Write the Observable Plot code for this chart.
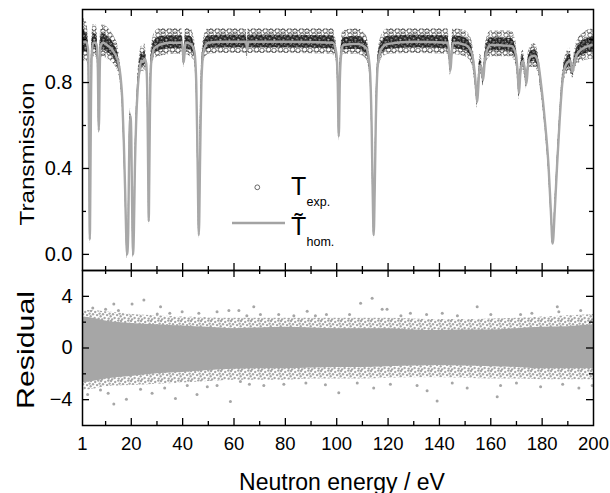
<!DOCTYPE html>
<html><head><meta charset="utf-8">
<script src="https://cdn.jsdelivr.net/npm/d3@7"></script>
<script src="https://cdn.jsdelivr.net/npm/@observablehq/plot@0.6"></script>
<style>
body{margin:0;background:#fff;font-family:"Liberation Sans",Arial,sans-serif}
#wrap{position:relative;width:610px;height:493px;overflow:hidden;background:#fff}
#top,#bot{position:absolute;left:0}
#top{top:0}
#bot{top:270px}
#legend{position:absolute;left:0;top:0;pointer-events:none}
svg{overflow:visible}
</style></head><body>
<svg id="patterns" width="0" height="0" style="position:absolute"><defs></defs></svg>
<div id="wrap">
  <div id="top"></div>
  <div id="bot"></div>
  <svg id="legend" width="610" height="493" font-family="Liberation Sans, Arial, sans-serif">
    <circle cx="257.3" cy="187.3" r="2.4" fill="none" stroke="#444" stroke-width="0.8"/>
    <line x1="232" x2="285" y1="223" y2="223" stroke="#a3a3a3" stroke-width="2.6"/>
    <text x="291" y="195" font-size="25">T</text>
    <text x="306.5" y="206" font-size="12.5">exp.</text>
    <text x="291" y="235" font-size="25">T&#x0303;</text>
    <text x="306.5" y="246" font-size="12.5">hom.</text>
  </svg>
</div>
<script>
// ---- Transmission: fitted curve (T hom.) and envelope of the experimental points (T exp.)
const energy = [
  1.0, 1.8, 2.6, 3.2, 3.45, 3.65, 3.85, 4.05, 4.3, 4.6, 5.2,
  6.0, 6.6, 7.0, 7.2, 7.35, 7.5, 7.7, 8.1,
  9.0, 10.5, 12.0, 13.5, 14.8, 15.8, 16.5, 17.1, 17.6,
  18.0, 18.4, 18.8, 19.1, 19.4, 19.7, 20.0, 20.3, 20.7, 21.0, 21.4, 21.9,
  22.5, 23.2, 24.0, 24.5, 25.2, 25.8, 26.3, 26.6, 26.8, 27.0, 27.3, 27.8, 29.0,
  31, 35, 39.8, 40.2, 40.45, 40.7, 41.1, 43, 44.5, 45.3, 45.8, 46.3, 46.8, 47.3, 48.2, 50,
  55, 64.7, 65.1, 65.5, 80, 98.5, 99.8, 100.4, 100.8, 101.2, 101.8, 102.5,
  108, 111.5, 112.8, 113.6, 114.0, 114.4, 114.8, 115.2, 116.0, 117.5, 120,
  130, 143.3, 143.9, 144.3, 144.7, 145.3, 150, 152.5, 153.7, 154.4, 154.7, 155.1, 155.7, 156.4, 157.0, 157.6, 158.5, 160,
  168, 169.8, 170.5, 171.0, 171.5, 172.5, 173.3, 173.9, 174.5, 175.5, 177,
  178.3, 179.6, 181.0, 182.5, 183.4, 184.1, 184.9, 185.8, 186.8, 187.8, 189.2, 190.8, 191.5, 191.9, 192.4, 193.5, 196, 200
];
const tHom = [
  0.99, 0.99, 0.985, 0.95, 0.70, 0.30, 0.07, 0.30, 0.70, 0.93, 0.985,
  0.985, 0.97, 0.85, 0.65, 0.577, 0.65, 0.85, 0.97,
  0.985, 0.975, 0.96, 0.935, 0.90, 0.83, 0.72, 0.52, 0.30,
  0.10, 0.0, 0.10, 0.40, 0.60, 0.645, 0.55, 0.25, 0.0, 0.10, 0.40, 0.62,
  0.77, 0.86, 0.90, 0.895, 0.91, 0.89, 0.70, 0.35, 0.155, 0.35, 0.70, 0.90, 0.96,
  0.975, 0.985, 0.985, 0.93, 0.895, 0.93, 0.985, 0.98, 0.95, 0.80, 0.45, 0.09, 0.45, 0.80, 0.95, 0.985,
  0.99, 0.99, 0.95, 0.99, 0.99, 0.985, 0.94, 0.80, 0.55, 0.80, 0.94, 0.975,
  0.98, 0.96, 0.88, 0.60, 0.30, 0.09, 0.30, 0.60, 0.88, 0.96, 0.98,
  0.99, 0.985, 0.92, 0.856, 0.92, 0.985, 0.975, 0.94, 0.85, 0.75, 0.71, 0.77, 0.88, 0.87, 0.81, 0.89, 0.95, 0.975,
  0.97, 0.93, 0.84, 0.75, 0.84, 0.90, 0.86, 0.795, 0.88, 0.92, 0.925,
  0.90, 0.79, 0.63, 0.41, 0.20, 0.05, 0.20, 0.41, 0.62, 0.79, 0.88, 0.90, 0.87, 0.85, 0.88, 0.93, 0.96, 0.975
];
const tExpLow = [
  0.90, 0.90, 0.90, 0.88, 0.66, 0.26, 0.05, 0.26, 0.66, 0.88, 0.92,
  0.92, 0.91, 0.80, 0.61, 0.55, 0.61, 0.80, 0.91,
  0.92, 0.91, 0.90, 0.88, 0.85, 0.79, 0.68, 0.48, 0.27,
  0.08, -0.02, 0.08, 0.37, 0.57, 0.61, 0.52, 0.22, -0.02, 0.08, 0.37, 0.59,
  0.73, 0.81, 0.85, 0.84, 0.86, 0.85, 0.67, 0.32, 0.14, 0.32, 0.67, 0.86, 0.91,
  0.92, 0.93, 0.93, 0.89, 0.87, 0.89, 0.93, 0.92, 0.90, 0.76, 0.42, 0.07, 0.42, 0.76, 0.90, 0.93,
  0.935, 0.935, 0.91, 0.935, 0.935, 0.93, 0.90, 0.76, 0.52, 0.76, 0.90, 0.93,
  0.93, 0.91, 0.84, 0.57, 0.27, 0.07, 0.27, 0.57, 0.84, 0.91, 0.93,
  0.935, 0.93, 0.88, 0.83, 0.88, 0.93, 0.92, 0.89, 0.81, 0.72, 0.68, 0.74, 0.84, 0.83, 0.78, 0.85, 0.90, 0.92,
  0.92, 0.88, 0.80, 0.72, 0.80, 0.86, 0.82, 0.77, 0.84, 0.87, 0.87,
  0.85, 0.75, 0.60, 0.38, 0.18, 0.04, 0.18, 0.38, 0.59, 0.75, 0.83, 0.85, 0.83, 0.82, 0.84, 0.88, 0.90, 0.91
];
const tExpHigh = [
  1.11, 1.09, 1.08, 1.02, 0.75, 0.34, 0.10, 0.34, 0.75, 1.00, 1.07,
  1.07, 1.06, 0.90, 0.70, 0.61, 0.70, 0.90, 1.05,
  1.07, 1.06, 1.04, 1.01, 0.97, 0.88, 0.76, 0.56, 0.33,
  0.13, 0.02, 0.13, 0.43, 0.63, 0.68, 0.58, 0.28, 0.02, 0.13, 0.43, 0.66,
  0.82, 0.92, 0.97, 0.96, 0.98, 0.94, 0.74, 0.38, 0.18, 0.38, 0.74, 0.96, 1.03,
  1.05, 1.05, 1.05, 0.98, 0.93, 0.98, 1.05, 1.05, 1.01, 0.85, 0.49, 0.12, 0.60, 0.86, 1.01, 1.05,
  1.05, 1.05, 0.99, 1.05, 1.05, 1.05, 0.99, 0.84, 0.58, 0.84, 0.99, 1.04,
  1.05, 1.02, 0.93, 0.63, 0.33, 0.11, 0.33, 0.63, 0.93, 1.02, 1.05,
  1.05, 1.05, 0.97, 0.89, 0.97, 1.05, 1.04, 1.00, 0.90, 0.79, 0.74, 0.81, 0.93, 0.92, 0.84, 0.94, 1.01, 1.04,
  1.04, 0.99, 0.88, 0.78, 0.88, 0.95, 0.90, 0.82, 0.93, 0.97, 0.98,
  0.95, 0.83, 0.66, 0.44, 0.23, 0.07, 0.23, 0.44, 0.65, 0.83, 0.93, 0.96, 0.91, 0.88, 0.93, 0.99, 1.03, 1.05
];

// ---- Residuals: dense core band, speckled halo band, and isolated points
const resEnergy    = [1, 5, 10, 20, 30, 40, 50, 60, 70, 80, 90, 100, 110, 120, 130, 140, 150, 160, 170, 180, 190, 200];
const resCoreLow   = [-2.7, -2.6, -2.4, -2.2, -2.0, -1.9, -1.75, -1.65, -1.6, -1.6, -1.55, -1.5, -1.5, -1.45, -1.4, -1.35, -1.4, -1.45, -1.5, -1.6, -1.6, -1.6];
const resCoreHigh  = [2.4, 2.3, 2.1, 1.9, 1.8, 1.7, 1.6, 1.5, 1.55, 1.6, 1.55, 1.5, 1.5, 1.5, 1.4, 1.35, 1.4, 1.4, 1.5, 1.6, 1.65, 1.8];
const resHaloLow   = [-3.3, -3.2, -3.0, -2.9, -2.8, -2.7, -2.6, -2.5, -2.5, -2.5, -2.4, -2.4, -2.4, -2.35, -2.3, -2.3, -2.35, -2.4, -2.4, -2.45, -2.45, -2.45];
const resHaloHigh  = [2.9, 2.9, 2.8, 2.6, 2.5, 2.4, 2.35, 2.3, 2.3, 2.3, 2.3, 2.3, 2.3, 2.3, 2.25, 2.2, 2.2, 2.25, 2.3, 2.4, 2.5, 2.6];
const resOutEnergy = [24.9, 20.3, 13.2, 10.0, 30.1, 31.4, 39.8, 46.3, 53.4, 58, 61.9, 67.7, 70.3, 77.4, 83.3, 109.3, 113.8, 117.7, 119.6, 88.5, 91.7, 128.7, 141.1, 154.7, 171.6, 185.9, 186.5,
  5, 15, 35, 65, 96, 105, 125, 135, 147, 160, 176, 195,
  13.2, 18.1, 8, 37.2, 45.6, 58.6, 49.6, 62.5, 71.6, 79.4, 23.6, 28.1, 41.8, 53.4, 100.8, 114.4, 139.1, 135.2, 162.5, 163.8, 179.4, 194.3, 199.5, 120.9, 131.3, 150.8, 95.6,
  3, 11, 33, 66, 88, 108, 145, 170, 188];
const resOutValue  = [3.72, 3.4, 3.4, 3.0, 2.64, 3.2, 2.8, 2.7, 2.8, 2.9, 2.9, 3.2, 2.6, 2.6, 2.5, 3.46, 3.85, 3.0, 3.0, 2.85, 2.5, 2.7, 2.7, 3.2, 2.6, 3.2, 2.8,
  3.1, 2.9, 2.7, 2.5, 2.6, 2.6, 2.5, 2.6, 2.5, 2.6, 2.7, 2.9,
  -4.33, -3.97, -3.25, -3.9, -3.6, -4.15, -3.0, -2.6, -2.9, -2.8, -3.2, -3.5, -2.9, -2.9, -3.46, -3.1, -4.1, -3.3, -3.77, -2.9, -3.0, -3.1, -2.9, -2.8, -2.9, -3.1, -2.85,
  -3.6, -3.5, -3.1, -2.8, -2.7, -2.7, -2.7, -2.7, -2.8];

// ---- Axes
const xTickLabels = [1, 20, 40, 60, 80, 100, 120, 140, 160, 180, 200];
const xMajor = [20, 40, 60, 80, 100, 120, 140, 160, 180];
const xMinor = [10, 30, 50, 70, 90, 110, 130, 150, 170, 190];
const tTicks = [0, 0.4, 0.8];
const tMinor = [0.2, 0.6, 1.0];
const rTicks = [-4, 0, 4];
const rMinor = [-2, 2];

// ---- texture patterns (styling only): open circles for T exp., dots for residuals
function makePattern(id, w, h, pts, draw) {
  const p = d3.select("#patterns defs").append("pattern")
    .attr("id", id).attr("patternUnits", "userSpaceOnUse").attr("width", w).attr("height", h);
  for (const [cx, cy] of pts)
    for (const ox of [-w, 0, w]) for (const oy of [-h, 0, h]) draw(p.append("circle").attr("cx", cx + ox).attr("cy", cy + oy));
}
makePattern("expDense", 9, 8,
  [[1,1],[4.5,0.6],[7.5,2.2],[2.6,4],[6.1,4.6],[0.6,6.5],[4.1,7.1],[8.1,6.4]],
  c => c.attr("r", 2.2).attr("fill", "none").attr("stroke", "#151515").attr("stroke-width", 0.7));
makePattern("expSparse", 12, 11,
  [[2,2],[7.2,1.2],[10,6.3],[4.6,5.6],[1.2,9],[7,9.4]],
  c => c.attr("r", 2.2).attr("fill", "none").attr("stroke", "#222").attr("stroke-width", 0.6));
makePattern("resDots", 10, 10,
  [[1,1],[5.2,2],[8.3,0.6],[3,4.2],[7.1,5.1],[0.6,6.3],[4.6,8],[8.7,8.6],[2.1,9.4],[9.6,3.6]],
  c => c.attr("r", 1.2).attr("fill", "#a6a6a6"));

const FONT = "Liberation Sans, Arial, sans-serif";
const W = 610, ML = 82, MR = 17, IW = W - ML - MR;
const TOP_H = 270, TOP_MT = 9, TOP_IH = TOP_H - TOP_MT;
const BOT_H = 223, BOT_MB = 68, BOT_IH = BOT_H - BOT_MB;

const topRows = energy.map((e, i) => ({
  E: e, T: tHom[i], lo: tExpLow[i], hi: tExpHigh[i],
  ilo: (tExpLow[i] + tHom[i]) / 2, ihi: (tExpHigh[i] + tHom[i]) / 2
}));
const resBand = resEnergy.map((e, i) => ({E: e, cl: resCoreLow[i], ch: resCoreHigh[i], hl: resHaloLow[i], hh: resHaloHigh[i]}));
const resOut = resOutEnergy.map((e, i) => ({E: e, R: resOutValue[i]}));

function tickMarks(ih, yMaj, yMin) {
  const M = 7, m = 4;
  return [
    Plot.ruleX(xMajor, {x: d => d, insetTop: ih - M, stroke: "#000", strokeWidth: 1.3}),
    Plot.ruleX(xMajor, {x: d => d, insetBottom: ih - M, stroke: "#000", strokeWidth: 1.3}),
    Plot.ruleX(xMinor, {x: d => d, insetTop: ih - m, stroke: "#000", strokeWidth: 1.3}),
    Plot.ruleX(xMinor, {x: d => d, insetBottom: ih - m, stroke: "#000", strokeWidth: 1.3}),
    Plot.ruleY(yMaj, {y: d => d, insetRight: IW - M, stroke: "#000", strokeWidth: 1.3}),
    Plot.ruleY(yMaj, {y: d => d, insetLeft: IW - M, stroke: "#000", strokeWidth: 1.3}),
    Plot.ruleY(yMin, {y: d => d, insetRight: IW - m, stroke: "#000", strokeWidth: 1.3}),
    Plot.ruleY(yMin, {y: d => d, insetLeft: IW - m, stroke: "#000", strokeWidth: 1.3})
  ];
}

const topPlot = Plot.plot({
  width: W, height: TOP_H,
  marginLeft: ML, marginRight: MR, marginTop: TOP_MT, marginBottom: 0,
  style: {fontFamily: FONT, background: "transparent", overflow: "visible"},
  x: {domain: [1, 200], axis: null},
  y: {domain: [-0.075, 1.14], axis: null},
  marks: [
    Plot.areaY(topRows, {x: "E", y1: "lo", y2: "hi", fill: "url(#expSparse)", curve: "monotone-x", clip: true}),
    Plot.areaY(topRows, {x: "E", y1: "ilo", y2: "ihi", fill: "#6e6e6e", fillOpacity: 0.55, curve: "monotone-x", clip: true}),
    Plot.areaY(topRows, {x: "E", y1: "ilo", y2: "ihi", fill: "url(#expDense)", curve: "monotone-x", clip: true}),
    Plot.line(topRows, {x: "E", y: "T", stroke: "#a8a8a8", strokeWidth: 2.4, curve: "monotone-x", clip: true}),
    Plot.axisY({ticks: tTicks, tickSize: 0, tickPadding: 10, tickFormat: d => d.toFixed(1), fontSize: 20, label: null}),
    ...tickMarks(TOP_IH, tTicks, tMinor),
    Plot.text(["Transmission"], {frameAnchor: "left", rotate: -90, dx: -49, dy: 14, lineAnchor: "bottom", textAnchor: "middle", fontSize: 21, fill: "#000"}),
    Plot.frame({stroke: "#000", strokeWidth: 1.5})
  ]
});

const botPlot = Plot.plot({
  width: W, height: BOT_H,
  marginLeft: ML, marginRight: MR, marginTop: 0, marginBottom: BOT_MB,
  style: {fontFamily: FONT, background: "transparent", overflow: "visible"},
  x: {domain: [1, 200], axis: null},
  y: {domain: [-6, 6], axis: null},
  marks: [
    Plot.areaY(resBand, {x: "E", y1: "hl", y2: "hh", fill: "url(#resDots)", curve: "monotone-x"}),
    Plot.areaY(resBand, {x: "E", y1: "cl", y2: "ch", fill: "#a6a6a6", curve: "monotone-x"}),
    Plot.dot(resOut, {x: "E", y: "R", r: 1.5, fill: "#a6a6a6"}),
    Plot.axisY({ticks: rTicks, tickSize: 0, tickPadding: 10, fontSize: 20, label: null}),
    Plot.axisX({ticks: xTickLabels, tickSize: 0, tickPadding: 11, fontSize: 18.5, label: null}),
    ...tickMarks(BOT_IH, rTicks, rMinor),
    Plot.text(["Residual"], {frameAnchor: "left", rotate: -90, dx: -49, dy: 2, lineAnchor: "bottom", textAnchor: "middle", fontSize: 24, fill: "#000"}),
    Plot.text(["Neutron energy / eV"], {frameAnchor: "bottom", dx: 4, dy: 64, lineAnchor: "bottom", textAnchor: "middle", fontSize: 23, fill: "#000"}),
    Plot.frame({stroke: "#000", strokeWidth: 1.5})
  ]
});

document.getElementById("top").appendChild(topPlot);
document.getElementById("bot").appendChild(botPlot);

// stretch rotated axis titles to the reference length
d3.select(topPlot).selectAll("text").filter(function(){return this.textContent === "Transmission";})
  .attr("textLength", 143).attr("lengthAdjust", "spacingAndGlyphs");
d3.select(botPlot).selectAll("text").filter(function(){return this.textContent === "Residual";})
  .attr("textLength", 118).attr("lengthAdjust", "spacingAndGlyphs");
</script>
</body></html>
